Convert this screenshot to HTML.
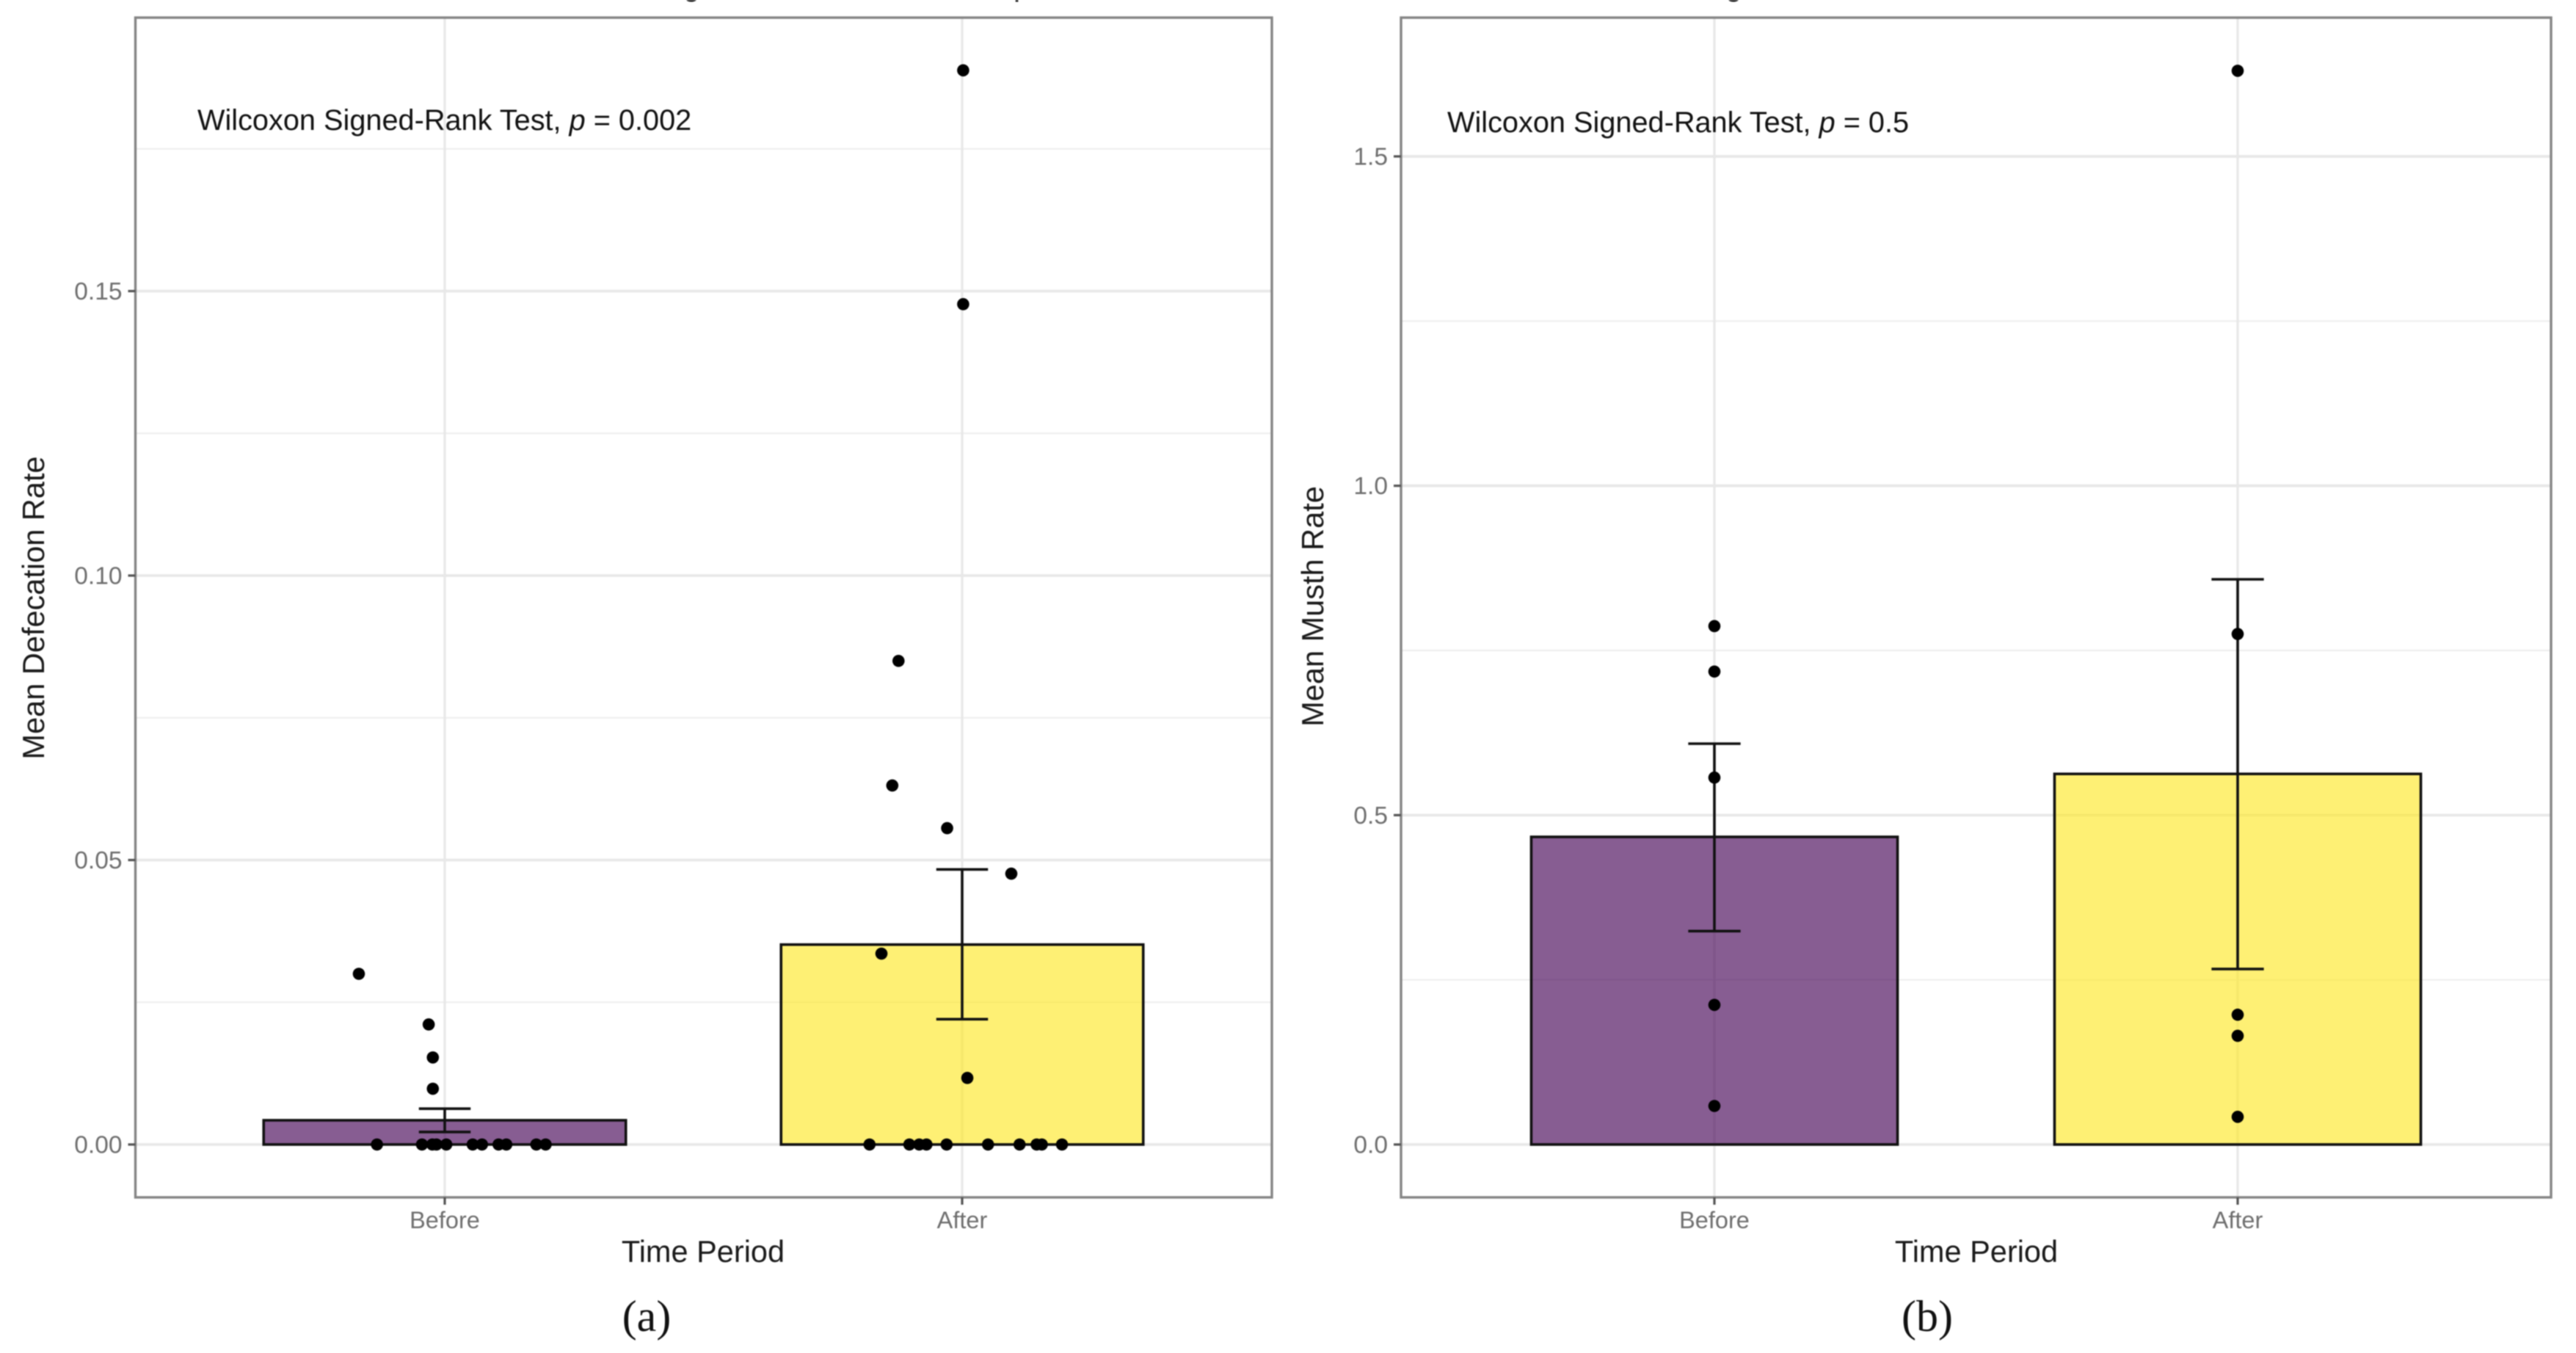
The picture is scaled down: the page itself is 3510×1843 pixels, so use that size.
<!DOCTYPE html>
<html lang="en">
<head>
<meta charset="utf-8">
<title>Mean defecation and musth rates before and after</title>
<style>
  html, body { margin: 0; padding: 0; background: #fff; }
  body { width: 3510px; height: 1843px; overflow: hidden; }
  svg { display: block; filter: blur(0.8px); }
  text { font-family: "Liberation Sans", Arial, sans-serif; }
</style>
</head>
<body>
<svg id="figure" xmlns="http://www.w3.org/2000/svg" width="3510" height="1843" viewBox="0 0 3510 1843">
  <rect x="0" y="0" width="3510" height="1843" fill="#ffffff"/>
  <text x="931" y="-6" font-size="41" fill="#111">g</text>
  <text x="1381" y="-6" font-size="41" fill="#111">p</text>
  <text x="2351" y="-6" font-size="41" fill="#111">g</text>
  <text x="881" y="1813" font-size="60" text-anchor="middle" fill="#111" style="font-family:'Liberation Serif',serif">(a)</text>
  <text x="2626" y="1813" font-size="60" text-anchor="middle" fill="#111" style="font-family:'Liberation Serif',serif">(b)</text>
</svg>
<script>
const categories = ['Before', 'After'];

const defecationTicks = [0, 0.05, 0.10, 0.15];
const defecationTickLabels = ['0.00', '0.05', '0.10', '0.15'];
const defecationMinorTicks = [0.025, 0.075, 0.125, 0.175];
const defecationMeans = [0.00426, 0.03514];
const defecationErrLow = [0.0022, 0.02203];
const defecationErrHigh = [0.0063, 0.04835];
const defecationBeforeValues = [0.03, 0.0211, 0.0153, 0.0098, 0, 0, 0, 0, 0, 0, 0, 0, 0, 0, 0];
const defecationBeforeJitter = [-0.166, -0.031, -0.023, -0.023, -0.131, -0.044, -0.024, -0.016, 0.003, 0.054, 0.072, 0.104, 0.119, 0.177, 0.195];
const defecationAfterValues = [0.1888, 0.1477, 0.085, 0.0631, 0.0556, 0.0476, 0.03355, 0.0117, 0, 0, 0, 0, 0, 0, 0, 0, 0, 0];
const defecationAfterJitter = [0.002, 0.002, -0.123, -0.135, -0.029, 0.095, -0.156, 0.010, -0.179, -0.102, -0.083, -0.069, -0.030, 0.050, 0.111, 0.144, 0.154, 0.193];

const musthTicks = [0, 0.5, 1.0, 1.5];
const musthTickLabels = ['0.0', '0.5', '1.0', '1.5'];
const musthMinorTicks = [0.25, 0.75, 1.25];
const musthMeans = [0.467, 0.5626];
const musthErrLow = [0.324, 0.2664];
const musthErrHigh = [0.6085, 0.858];
const musthBeforeValues = [0.787, 0.718, 0.557, 0.212, 0.0585];
const musthBeforeJitter = [0, 0, 0, 0, 0];
const musthAfterValues = [1.63, 0.775, 0.197, 0.165, 0.042];
const musthAfterJitter = [0, 0, 0, 0, 0];

const SVG_NS = 'http://www.w3.org/2000/svg';
const figure = document.getElementById('figure');
const barColors = ['#440154', '#FDE725'];

function mk(parent, tag, attrs, textContent) {
  const node = document.createElementNS(SVG_NS, tag);
  for (const key in attrs) node.setAttribute(key, attrs[key]);
  if (textContent !== undefined) node.textContent = textContent;
  parent.appendChild(node);
  return node;
}

function drawPanel(cfg) {
  const xScale = v => cfg.xFirst + (v - 1) * cfg.xUnit;
  const yScale = v => cfg.yZero - v * cfg.yUnit;

  const g = mk(figure, 'g', {});
  
  

  cfg.minorTicks.forEach(t => {
    const line = mk(g, 'line', { x1: cfg.left, x2: cfg.right, y1: yScale(t), y2: yScale(t), stroke: '#efefef', 'stroke-width': 2.2 });
    
    
  });
  cfg.ticks.forEach(t => {
    const line = mk(g, 'line', { x1: cfg.left, x2: cfg.right, y1: yScale(t), y2: yScale(t), stroke: '#e8e8e8', 'stroke-width': 3.8 });
    
    
  });
  categories.forEach((c, i) => {
    const line = mk(g, 'line', { x1: xScale(i + 1), x2: xScale(i + 1), y1: cfg.top, y2: cfg.bottom, stroke: '#e8e8e8', 'stroke-width': 3.4 });
    
    
  });

  categories.forEach((c, i) => {
    const cx = xScale(i + 1);
    const left = xScale(i + 1 - 0.35);
    const right = xScale(i + 1 + 0.35);
    const bar = mk(g, 'rect', {
      x: left, y: yScale(cfg.means[i]), width: right - left, height: yScale(0) - yScale(cfg.means[i]),
      fill: barColors[i], 'fill-opacity': 0.64, stroke: '#111', 'stroke-width': 3.6
    });
    
    

    const stem = mk(g, 'line', { x1: cx, x2: cx, y1: yScale(cfg.errHigh[i]), y2: yScale(cfg.errLow[i]), stroke: '#111', 'stroke-width': 3.6 });
    
    
    const capTop = mk(g, 'line', { x1: xScale(i + 0.95), x2: xScale(i + 1.05), y1: yScale(cfg.errHigh[i]), y2: yScale(cfg.errHigh[i]), stroke: '#111', 'stroke-width': 3.6 });
    
    
    const capLow = mk(g, 'line', { x1: xScale(i + 0.95), x2: xScale(i + 1.05), y1: yScale(cfg.errLow[i]), y2: yScale(cfg.errLow[i]), stroke: '#111', 'stroke-width': 3.6 });
    
    
  });

  [[cfg.beforeValues, cfg.beforeJitter, 1], [cfg.afterValues, cfg.afterJitter, 2]].forEach(group => {
    group[0].forEach((v, i) => {
      const dot = mk(g, 'circle', { cx: xScale(group[2] + group[1][i]), cy: yScale(v), r: 8.3, fill: '#000' });
      
      
    });
  });

  const border = mk(g, 'rect', { x: cfg.left, y: cfg.top, width: cfg.right - cfg.left, height: cfg.bottom - cfg.top, fill: 'none', stroke: '#858585', 'stroke-width': 3.4 });
  
  

  cfg.ticks.forEach((t, i) => {
    const tick = mk(g, 'line', { x1: cfg.left - 10, x2: cfg.left, y1: yScale(t), y2: yScale(t), stroke: '#555', 'stroke-width': 3.2 });
    
    
    const label = mk(g, 'text', { x: cfg.left - 18, y: yScale(t) + 11.5, 'font-size': 33.5, 'text-anchor': 'end', fill: '#6e6e6e' }, cfg.tickLabels[i]);
    
    
  });
  categories.forEach((c, i) => {
    const cx = xScale(i + 1);
    const tick = mk(g, 'line', { x1: cx, x2: cx, y1: cfg.bottom, y2: cfg.bottom + 10, stroke: '#555', 'stroke-width': 3.2 });
    
    
    const label = mk(g, 'text', { x: cx, y: 1673, 'font-size': 32.5, 'text-anchor': 'middle', fill: '#6e6e6e' }, c);
    
    
  });

  const xTitle = mk(g, 'text', { x: cfg.xTitleX, y: 1719, 'font-size': 41.5, 'text-anchor': 'middle', fill: '#1a1a1a' }, 'Time Period');
  
  

  const yTitle = mk(g, 'text', { x: 0, y: 0, 'font-size': 41.5, 'text-anchor': 'middle', fill: '#1a1a1a', transform: 'translate(' + cfg.yTitleX + ',' + cfg.yTitleY + ') rotate(-90)' }, cfg.yTitle);
  
  

  const note = mk(g, 'text', { x: cfg.noteX, y: cfg.noteY, 'font-size': 39.7, fill: '#111' });
  
  
  mk(note, 'tspan', {}, 'Wilcoxon Signed-Rank Test, ');
  mk(note, 'tspan', { 'font-style': 'italic' }, 'p');
  mk(note, 'tspan', {}, ' = ' + cfg.pValue);
}

drawPanel({
  id: 'panel-a-defecation',
  left: 184.5, right: 1733, top: 24, bottom: 1631,
  xFirst: 606, xUnit: 705, yZero: 1559, yUnit: 7750,
  ticks: defecationTicks, tickLabels: defecationTickLabels, minorTicks: defecationMinorTicks,
  means: defecationMeans, errLow: defecationErrLow, errHigh: defecationErrHigh,
  beforeValues: defecationBeforeValues, beforeJitter: defecationBeforeJitter,
  afterValues: defecationAfterValues, afterJitter: defecationAfterJitter,
  yTitle: 'Mean Defecation Rate', yTitleX: 60, yTitleY: 828,
  xTitleX: 958, noteX: 269, noteY: 177, pValue: '0.002'
});

drawPanel({
  id: 'panel-b-musth',
  left: 1909, right: 3476, top: 24, bottom: 1631,
  xFirst: 2336, xUnit: 713, yZero: 1559, yUnit: 897.3,
  ticks: musthTicks, tickLabels: musthTickLabels, minorTicks: musthMinorTicks,
  means: musthMeans, errLow: musthErrLow, errHigh: musthErrHigh,
  beforeValues: musthBeforeValues, beforeJitter: musthBeforeJitter,
  afterValues: musthAfterValues, afterJitter: musthAfterJitter,
  yTitle: 'Mean Musth Rate', yTitleX: 1803, yTitleY: 826,
  xTitleX: 2693, noteX: 1972, noteY: 180, pValue: '0.5'
});
</script>
</body>
</html>
